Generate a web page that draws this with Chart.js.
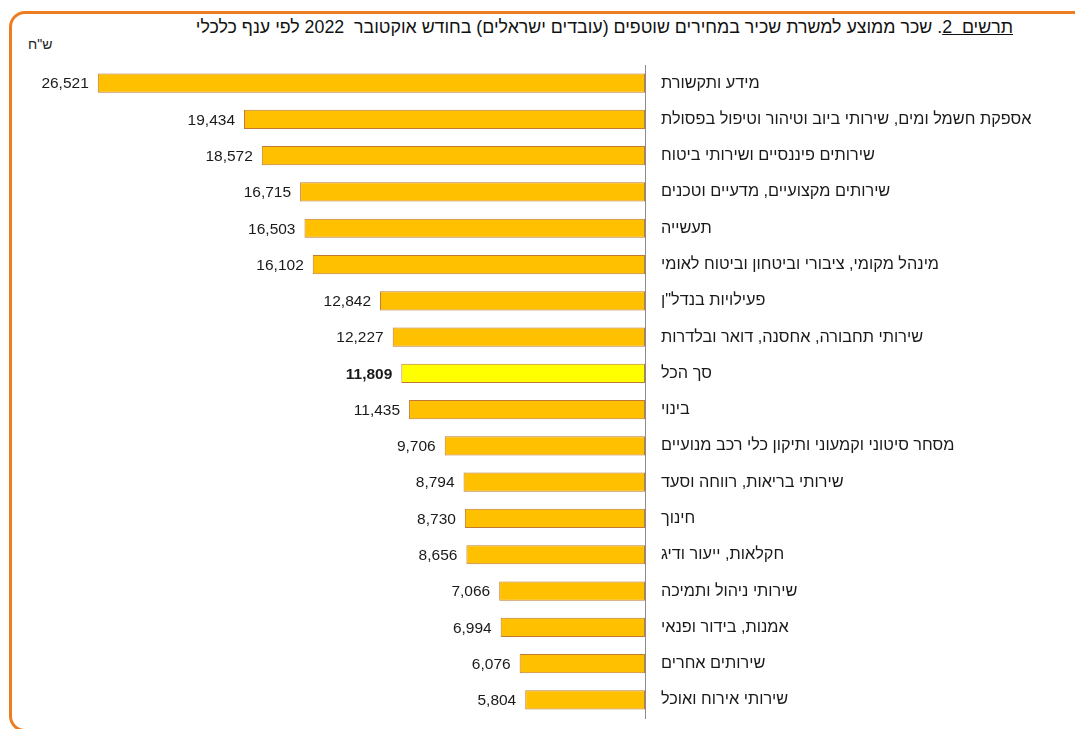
<!DOCTYPE html>
<html lang="he">
<head>
<meta charset="utf-8">
<script src="https://cdn.jsdelivr.net/npm/chart.js@4"></script>
<style>
  html, body { margin: 0; padding: 0; background: #fff; }
  body { width: 1075px; height: 729px; position: relative; overflow: hidden; font-family: "Liberation Sans", Arial, sans-serif; }
  #frame { position: absolute; left: 9px; top: 11px; width: 1120px; height: 721px; border: 3px solid #EE7D22; border-radius: 16px; box-sizing: border-box; }
  #title { position: absolute; right: 62px; top: 16px; font-size: 17.8px; line-height: 22px; color: #111; direction: rtl; white-space: pre; }
  #unit { position: absolute; left: 28px; top: 36px; font-size: 14px; line-height: 16px; color: #222; direction: rtl; }
  #wrap { position: absolute; left: 0; top: 0; width: 1075px; height: 729px; }
  canvas { direction: rtl; display: block; }
</style>
</head>
<body>
<div id="frame"></div>
<div id="title"><u>תרשים  2</u>. שכר ממוצע למשרת שכיר במחירים שוטפים (עובדים ישראלים) בחודש אוקטובר  2022 לפי ענף כלכלי</div>
<div id="unit">ש"ח</div>
<div id="wrap"><canvas id="myChart" width="1075" height="729"></canvas></div>
<script>
"use strict";
// branches, top to bottom
const Branches = [
    "מידע ותקשורת",
    "אספקת חשמל ומים, שירותי ביוב וטיהור וטיפול בפסולת",
    "שירותים פיננסיים ושירותי ביטוח",
    "שירותים מקצועיים, מדעיים וטכנים",
    "תעשייה",
    "מינהל מקומי, ציבורי וביטחון וביטוח לאומי",
    "פעילויות בנדל\"ן",
    "שירותי תחבורה, אחסנה, דואר ובלדרות",
    "סך הכל",
    "בינוי",
    "מסחר סיטוני וקמעוני ותיקון כלי רכב מנועיים",
    "שירותי בריאות, רווחה וסעד",
    "חינוך",
    "חקלאות, ייעור ודיג",
    "שירותי ניהול ותמיכה",
    "אמנות, בידור ופנאי",
    "שירותים אחרים",
    "שירותי אירוח ואוכל"
];
// average wage, NIS
const Wages = [26521, 19434, 18572, 16715, 16503, 16102, 12842, 12227, 11809, 11435, 9706, 8794, 8730, 8656, 7066, 6994, 6076, 5804];
const TotalLabel = "סך הכל";

const BarColors = [];
for (let i = 0; i < Branches.length; i++) {
    BarColors[i] = Branches[i] === TotalLabel ? '#FFFF00' : '#FFC000';
}

// value labels left of each bar
const valueLabels = {
    id: 'valueLabels',
    afterDatasetsDraw(chart) {
        const ctx = chart.ctx;
        const meta = chart.getDatasetMeta(0);
        ctx.save();
        ctx.textAlign = 'right';
        ctx.textBaseline = 'middle';
        ctx.fillStyle = '#1a1a1a';
        meta.data.forEach(function (bar, i) {
            const bold = Branches[i] === TotalLabel;
            ctx.font = (bold ? 'bold ' : '') + '15.5px "Liberation Sans", Arial, sans-serif';
            ctx.fillText(Wages[i].toLocaleString('en-US'), bar.x - 9, bar.y + 1);
        });
        ctx.restore();
    }
};

const data = {
    labels: Branches,
    datasets: [{
        data: Wages,
        backgroundColor: BarColors,
        borderColor: '#C07A36',
        borderWidth: 1,
        borderSkipped: false,
        barPercentage: 0.53,
        categoryPercentage: 1
    }]
};

const config = {
    type: 'bar',
    data: data,
    options: {
        indexAxis: 'y',
        responsive: false,
        animation: false,
        layout: { padding: { left: 26, top: 65, bottom: 11, right: 0 } },
        plugins: {
            legend: { display: false },
            tooltip: { enabled: false }
        },
        scales: {
            x: {
                display: false,
                reverse: true,
                min: 0,
                max: 30000
            },
            y: {
                position: 'right',
                afterFit: function (scale) {
                    scale.width = 430;
                    scale.paddingTop = 0;
                    scale.paddingBottom = 0;
                },
                grid: { display: false, drawTicks: false },
                border: { display: true, color: '#8c8c8c', width: 1 },
                ticks: {
                    padding: 16,
                    color: '#1a1a1a',
                    autoSkip: false,
                    font: { family: '"Liberation Sans", Arial, sans-serif', size: 16.3 }
                }
            }
        }
    },
    plugins: [valueLabels]
};

const myChart = new Chart(document.getElementById('myChart'), config);
</script>
</body>
</html>
